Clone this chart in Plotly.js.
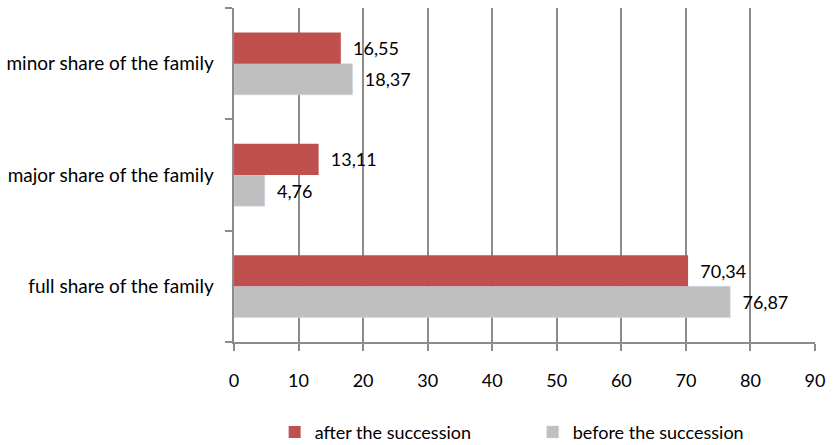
<!DOCTYPE html>
<html>
<head>
<meta charset="utf-8">
<script src="https://cdn.plot.ly/plotly-3.0.1.min.js"></script>
<style>html,body{margin:0;padding:0;background:#fff;}#chart{width:834px;height:445px;}</style>
</head>
<body>
<div id="chart"></div>
<script>
const categories = ["full share of the family", "major share of the family", "minor share of the family"];
const afterValues = [70.34, 13.11, 16.55];
const beforeValues = [76.87, 4.76, 18.37];
const seriesNames = ["after the succession", "before the succession"];
const xTicks = [0, 10, 20, 30, 40, 50, 60, 70, 80, 90];

const font = {family: "Lato, 'Open Sans', sans-serif", size: 18, color: "#000"};

const traces = [
  {
    type: "bar", orientation: "h", name: seriesNames[1],
    y: categories, x: beforeValues,
    marker: {color: "#BFBFBF", line: {color: "#C6D9F1", width: 0.5}},
    texttemplate: "\u00a0\u00a0%{x:.2f}", textposition: "outside", cliponaxis: false,
    textfont: font, hoverinfo: "none"
  },
  {
    type: "bar", orientation: "h", name: seriesNames[0],
    y: categories, x: afterValues,
    marker: {color: "#C0504D"},
    texttemplate: "\u00a0\u00a0%{x:.2f}", textposition: "outside", cliponaxis: false,
    textfont: font, hoverinfo: "none"
  }
];

const layout = {
  width: 834, height: 445,
  margin: {l: 234, r: 19, t: 8, b: 103, pad: 0, autoexpand: false},
  paper_bgcolor: "#fff", plot_bgcolor: "#fff",
  separators: ",.",
  barmode: "group", bargap: 0.44, bargroupgap: 0,
  font: font,
  showlegend: true,
  legend: {
    orientation: "h", traceorder: "reversed",
    x: 0.07, xanchor: "left", y: -0.27, yanchor: "middle",
    font: font, entrywidth: 213, entrywidthmode: "pixels",
    itemwidth: 30
  },
  xaxis: {
    range: [0, 90], tickvals: xTicks, ticktext: xTicks.map(String),
    showgrid: true, gridcolor: "#8C8C8C", gridwidth: 2,
    showline: true, linecolor: "#8C8C8C", linewidth: 2,
    ticks: "outside", ticklen: 7, tickwidth: 2, tickcolor: "#8C8C8C",
    ticklabelstandoff: 14,
    zeroline: false, tickfont: font, fixedrange: true
  },
  yaxis: {
    type: "category", categoryorder: "array", categoryarray: categories,
    showgrid: false, showline: true, linecolor: "#8C8C8C", linewidth: 2.5,
    ticks: "outside", tickson: "boundaries", ticklen: 7, tickwidth: 2, tickcolor: "#8C8C8C",
    tickfont: Object.assign({}, font, {size: 19}), ticklabelstandoff: 14, fixedrange: true, zeroline: false
  }
};

Plotly.newPlot("chart", traces, layout, {displayModeBar: false, staticPlot: true});
</script>
</body>
</html>
